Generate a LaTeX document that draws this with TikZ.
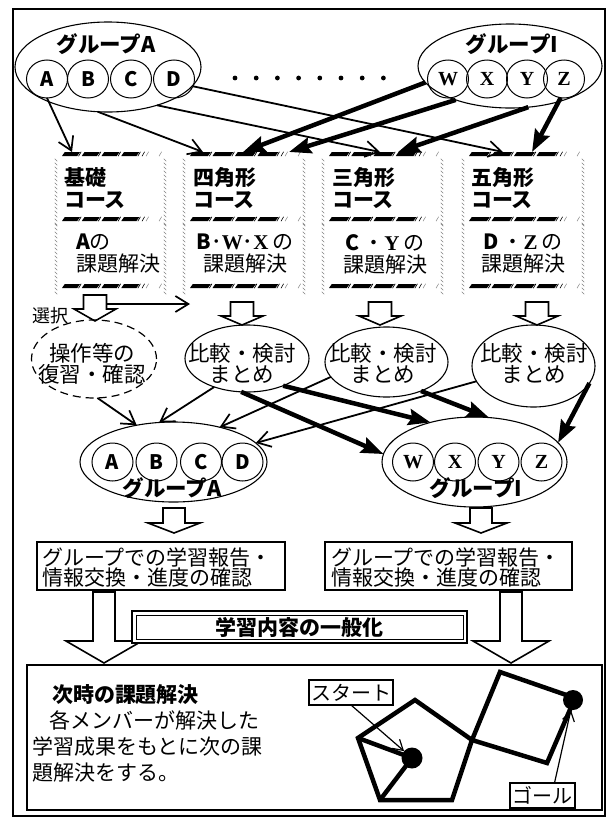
\documentclass[tikz,border=0pt]{standalone}
\usepackage{fontspec}
\setmainfont{Noto Sans CJK JP}
\newfontfamily\serifbf{Liberation Serif}
\usetikzlibrary{shapes.geometric,arrows.meta,calc}

% serif bold capitals used for the members W, X, Y, Z
\newcommand{\lw}[1]{{\serifbf\bfseries #1}}

% hatched horizontal edge of a course box: left x, right x, y
\newcommand{\hatchrow}[3]{%
  \pgfmathsetmacro{\hp}{(#2-#1-30)/4}
  \foreach \i in {0,1,2,3}{
    \pgfmathsetmacro{\hx}{#1+6+\hp*\i}
    \fill (\hx,#3+2) -- ++(\hp-4.5,0) -- ++(2.8,-4) -- ++(-\hp+4.5,0) -- cycle;
    \draw[line width=0.7pt] (\hx+\hp-3.2,#3+2.2) -- ++(2.6,-4.4);
  }
  \pgfmathsetmacro{\hx}{#1+6+4*\hp}
  \draw[line width=0.6pt] (\hx+1,#3+2.2) -- ++(2.6,-4.4);
  \draw[line width=0.5pt,gray] (\hx+5,#3+2.2) -- ++(2.6,-4.4);
  \draw[line width=0.5pt,gray] (#2-6,#3+2.2) -- ++(2.6,-4.4);
}
% hatched vertical edge of a course box: x, y from, y to
\newcommand{\hatchside}[3]{%
  \pgfmathtruncatemacro{\hn}{(#3-#2)/4}
  \foreach \j in {0,...,\hn}{
    \draw[line width=0.5pt,gray] (#1-1.3,#2+4*\j-1.3) -- ++(2.6,2.6);
  }
}
% full course box frame: left x, right x, top y, divider y, bottom y
\newcommand{\coursebox}[5]{%
  \hatchrow{#1}{#2}{#3}\hatchrow{#1}{#2}{#4}\hatchrow{#1}{#2}{#5}
  \hatchside{#1}{#3+6}{#4-5}\hatchside{#1}{#4+6}{#5-5}
  \hatchside{#2}{#3+6}{#4-5}\hatchside{#2}{#4+6}{#5-5}
}
% hollow block arrow: centre x, top y, head y, tip y, half shaft, half head
\newcommand{\blockarrow}[6]{%
  \draw[line width=1.6pt,fill=white,line join=miter]
    ({#1-#5},#2) -- ({#1-#5},#3) -- ({#1-#6},#3) -- (#1,#4)
    -- ({#1+#6},#3) -- ({#1+#5},#3) -- ({#1+#5},#2) -- cycle;
}

\begin{document}
\begin{tikzpicture}[x=1pt,y=-1pt,
  every node/.style={inner sep=0pt,outer sep=0pt},
  ring/.style={draw,ellipse,line width=1.1pt},
  member/.style={draw,ellipse,line width=1pt,minimum width=41pt,minimum height=38pt,
    font=\fontsize{20}{20}\selectfont\bfseries},
  memser/.style={member,font=\fontsize{20}{20}\selectfont\serifbf\bfseries},
  gtitle/.style={font=\fontsize{21.5}{21.5}\selectfont\bfseries},
  cname/.style={font=\fontsize{21}{22}\selectfont\bfseries,align=left,anchor=west},
  body/.style={font=\fontsize{21}{22}\selectfont},
  etext/.style={font=\fontsize{21.5}{21}\selectfont,align=center},
  rtext/.style={font=\fontsize{21}{20}\selectfont,align=left,anchor=west},
  thinarrow/.style={line width=1.8pt,-{Straight Barb[length=13pt,width=16pt,line width=1.7pt]}},
  thickarrow/.style={line width=4.5pt,-{Stealth[length=22pt,width=16pt,inset=3pt]}},
  panel/.style={draw,line width=2.6pt},
  fig/.style={line width=4.5pt,line join=miter},
  tag/.style={draw,line width=1.4pt,font=\fontsize{20}{20}\selectfont},
  pointer/.style={line width=1.2pt,-{Straight Barb[length=10pt,width=12pt,line width=1.2pt]}},
]
\useasboundingbox (0,0) rectangle (613,822);

% outer frame
\draw[line width=2.5pt] (13,9) rectangle (605,816);

% ---------- groups at the top ----------
\node[ring,minimum width=186pt,minimum height=90pt] (gAt) at (108,67) {};
\node[gtitle] (gAtT) at (106,44) {グループA};
\node[member] (cA) at (47,79) {A};
\node[member] (cB) at (88,79) {B};
\node[member] (cC) at (131,79) {C};
\node[member] (cD) at (174,79) {D};

\node[ring,minimum width=184pt,minimum height=84pt] (gIt) at (510,66) {};
\node[gtitle] (gItT) at (512,44) {グループI};
\node[memser] (cW) at (448,79) {W};
\node[memser] (cX) at (487,79) {X};
\node[memser] (cY) at (527,79) {Y};
\node[memser] (cZ) at (564,79) {Z};

\foreach \i in {0,...,7} \fill (235+21.2*\i,78) circle[radius=2.4pt];

% ---------- course boxes ----------
\node[minimum width=109pt,minimum height=136pt] (k1) at (110.5,220) {};
\node[minimum width=120pt,minimum height=136pt] (k2) at (244,220) {};
\node[minimum width=119pt,minimum height=136pt] (k3) at (382.5,220) {};
\node[minimum width=120pt,minimum height=136pt] (k4) at (523,220) {};
\coursebox{56}{165}{154}{219}{286}
\coursebox{184}{304}{154}{219}{286}
\coursebox{323}{442}{154}{219}{286}
\coursebox{463}{583}{154}{219}{286}

\node[cname] (k1n) at (64,188) {基礎\\コース};
\node[cname] (k2n) at (193,188) {四角形\\コース};
\node[cname] (k3n) at (332,188) {三角形\\コース};
\node[cname] (k4n) at (471,188) {五角形\\コース};

\node[body,align=left,anchor=west] (k1b) at (76,254) {{\bfseries A}の\\課題解決};
\node[body,align=center] (k2b) at (245,254) {{\bfseries B}･\lw{W}･\lw{X}\,の\\課題解決};
\node[body,align=center] (k3b) at (385,254) {{\bfseries C}\hspace{4pt}・\lw{Y}\hspace{4pt}の\\課題解決};
\node[body,align=center] (k4b) at (523,254) {{\bfseries D}\hspace{4pt}・\lw{Z}\hspace{4pt}の\\課題解決};

% ---------- arrows from the groups to the courses ----------
\draw[thinarrow] (cA.south) -- ([xshift=16pt]k1.north west);
\draw[thinarrow] (gAt.-103) -- ([xshift=19pt]k2.north west);
\draw[thinarrow] (gAt.-38) -- ([xshift=57pt]k3.north west);
\draw[thinarrow] (cD.-21) -- ([xshift=40pt]k4.north west);

\draw[thickarrow] (gIt.191) -- ([xshift=59pt]k2.north west);
\draw[thickarrow] (gIt.212) -- ([xshift=105pt]k2.north west);
\draw[thickarrow] (gIt.-66) -- ([xshift=75pt]k3.north west);
\draw[thickarrow] (cZ.-100) -- ([xshift=69pt]k4.north west);

% ---------- block arrows below the courses ----------
\blockarrow{95}{295}{309}{321}{11.5}{21}
\blockarrow{242}{302}{316}{325}{11.5}{21}
\blockarrow{380}{302}{316}{325}{11.5}{21}
\blockarrow{537}{302}{316}{325}{11.5}{21}

\coordinate (sel0) at (107,304);
\coordinate (sel1) at (190,304);
\draw[thinarrow] (sel0) -- (sel1);
\node[font=\fontsize{18}{18}\selectfont] (sel) at (50,316) {選択};

% ---------- discussion ellipses ----------
\node[draw,ellipse,line width=1.2pt,dash pattern=on 8pt off 5pt,minimum width=125pt,minimum height=78pt] (e1) at (94,359) {};
\node[draw,ellipse,line width=1.1pt,minimum width=124pt,minimum height=67pt] (e2) at (247,358.5) {};
\node[draw,ellipse,line width=1.1pt,minimum width=123pt,minimum height=70pt] (e3) at (386.5,362) {};
\node[draw,ellipse,line width=1.1pt,minimum width=123pt,minimum height=82pt] (e4) at (533.5,366) {};
\node[etext] (e1t) at (92,364) {操作等の\\復習・確認};
\node[etext] (e2t) at (242,363) {比較・検討\\まとめ};
\node[etext] (e3t) at (383,363) {比較・検討\\まとめ};
\node[etext] (e4t) at (534,363) {比較・検討\\まとめ};

% ---------- groups at the bottom ----------
\node[ring,minimum width=187pt,minimum height=80pt] (gAb) at (173.5,462) {};
\node[member] (dA) at (112.5,462) {A};
\node[member] (dB) at (156.5,462) {B};
\node[member] (dC) at (201,462) {C};
\node[member] (dD) at (242.5,462) {D};
\node[gtitle] (gAbT) at (172,488) {グループA};

\node[ring,minimum width=185pt,minimum height=90pt] (gIb) at (474.5,462) {};
\node[memser] (dW) at (413,462) {W};
\node[memser] (dX) at (455,462) {X};
\node[memser] (dY) at (498.5,462) {Y};
\node[memser] (dZ) at (541.5,462) {Z};
\node[gtitle] (gIbT) at (476,488) {グループI};

% ---------- arrows from the discussions to the groups ----------
\draw[thinarrow] (e1.-85) -- (gAb.135);
\draw[thinarrow] (e2.221) -- (gAb.110);
\draw[thinarrow] (e3.195) -- (gAb.37);
\draw[thinarrow] (e4.195) -- (gAb.13);

\draw[thickarrow] (e2.-100) -- (gIb.175);
\draw[thickarrow] (e2.-37) -- (gIb.138);
\draw[thickarrow] (e3.-40) -- (gIb.72);
\draw[thickarrow] (e4.-17) -- (gIb.13.5);

\blockarrow{174}{508}{523}{533}{11}{26}
\blockarrow{481}{508}{523}{533}{11}{26}

% ---------- reports ----------
\node[panel,minimum width=248pt,minimum height=48pt] (r1) at (161,566) {};
\node[panel,minimum width=247pt,minimum height=48pt] (r2) at (448.5,566) {};
\node[rtext] (r1t) at (42,568) {グループでの学習報告・\\情報交換・進度の確認};
\node[rtext] (r2t) at (331,568) {グループでの学習報告・\\情報交換・進度の確認};

\blockarrow{104}{592}{641}{663}{11}{38}
\blockarrow{511}{592}{641}{663}{11}{38}

\node[draw,fill=white,line width=2.2pt,minimum width=335pt,minimum height=32pt,
  font=\fontsize{21}{21}\selectfont\bfseries] (gen) at (299.5,627) {学習内容の一般化};
\draw[line width=0.9pt] ([xshift=4pt,yshift=-4pt]gen.north west) rectangle ([xshift=-4pt,yshift=4pt]gen.south east);

% ---------- next lesson ----------
\node[panel,minimum width=575pt,minimum height=145pt] (nb) at (314.5,737.5) {};
\node[font=\fontsize{21}{21}\selectfont\bfseries,anchor=west] (nb1) at (52,695) {次時の課題解決};
\node[body,anchor=west] (nb2) at (49,720) {各メンバーが解決した};
\node[body,anchor=west] (nb3) at (32,747) {学習成果をもとに次の課};
\node[body,anchor=west] (nb4) at (32,773) {題解決をする。};

% pentagon and square path
\coordinate (p1) at (415,700);
\coordinate (p2) at (472,740);
\coordinate (p3) at (452,800);
\coordinate (p4) at (380,800);
\coordinate (p5) at (358,738);
\coordinate (s2) at (500,672);
\coordinate (s3) at (575,698);
\coordinate (s4) at (547,763);
\draw[fig] (p1) -- (p2) -- (p3) -- (p4) -- (p5) -- cycle;
\draw[fig] (p2) -- (s2) -- (s3) -- (s4) -- cycle;
\node[circle,fill,minimum size=21pt] (start) at (412,758) {};
\node[circle,fill,minimum size=20pt] (goal) at (573,700) {};
\draw[fig] (p5) -- (start.center);
\draw[fig] (p4) -- (start.center);

\node[tag,minimum width=84pt,minimum height=25pt] (lstart) at (351,692.5) {スタート};
\node[tag,minimum width=65pt,minimum height=25pt] (lgoal) at (542.5,795.5) {ゴール};
\draw[pointer] (lstart.south) -- (start.139);
\draw[pointer] ([xshift=12pt]lgoal.north) -- (goal.-102);
\end{tikzpicture}
\end{document}
